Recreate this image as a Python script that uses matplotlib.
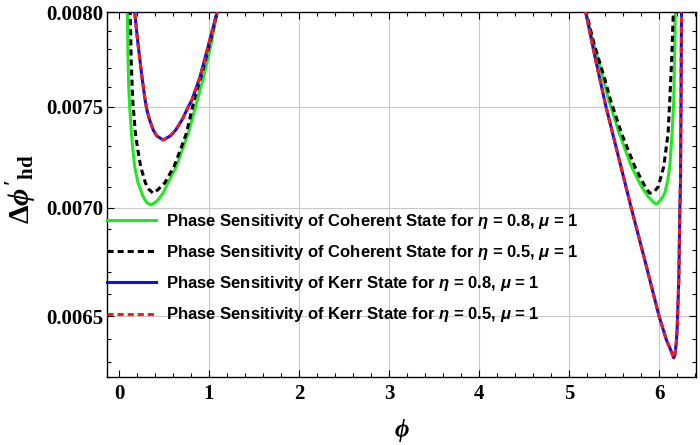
import numpy as np
import matplotlib
matplotlib.use("Agg")
import matplotlib.pyplot as plt
from matplotlib.ticker import FixedLocator, FixedFormatter, NullFormatter

plt.rcParams['mathtext.fontset'] = 'custom'
plt.rcParams['mathtext.rm'] = 'Liberation Serif:bold'
plt.rcParams['mathtext.it'] = 'Liberation Serif:italic:bold'
plt.rcParams['mathtext.bf'] = 'Liberation Serif:bold'
plt.rcParams['mathtext.sf'] = 'Liberation Sans:italic:bold'

# ---------------- data ----------------
# Coherent state, eta = 0.8 (green)
coh08_phi_left = [0.088, 0.093, 0.100, 0.108, 0.119, 0.138, 0.155, 0.174, 0.211, 0.267,
                  0.310, 0.350, 0.390, 0.433, 0.490, 0.544, 0.637, 0.700, 0.770, 0.850,
                  0.940, 1.025, 1.090, 1.110]
coh08_val_left = [0.00810, 0.00800, 0.00775, 0.00760, 0.00750, 0.007366, 0.00728, 0.00720,
                  0.00712, 0.007054, 0.007025, 0.007014, 0.007022, 0.007038, 0.00707, 0.00712,
                  0.00720, 0.00728, 0.007366, 0.00750, 0.007654, 0.007834, 0.00800, 0.00806]
coh08_phi_right = [5.170, 5.185, 5.250, 5.322, 5.375, 5.440, 5.556, 5.693, 5.804, 5.878,
                   5.930, 5.970, 6.020, 6.063, 6.095, 6.119, 6.144, 6.163, 6.172, 6.180, 6.182]
coh08_val_right = [0.00810, 0.00800, 0.00787, 0.007744, 0.007654, 0.007535, 0.007366, 0.00720,
                   0.007102, 0.007054, 0.00703, 0.007017, 0.007038, 0.00707, 0.00713, 0.00720,
                   0.007366, 0.007535, 0.00775, 0.00800, 0.00810]

# Coherent state, eta = 0.5 (black dashed)
coh05_phi_left = [0.120, 0.125, 0.135, 0.152, 0.182, 0.210, 0.241, 0.293, 0.330, 0.378,
                  0.430, 0.508, 0.611, 0.680, 0.749, 0.835, 0.910, 1.010, 1.090, 1.110]
coh05_val_left = [0.00810, 0.00800, 0.007744, 0.007535, 0.007366, 0.00728, 0.00720, 0.00712,
                  0.00709, 0.00707, 0.007086, 0.00712, 0.00720, 0.00728, 0.007366, 0.007535,
                  0.007654, 0.007834, 0.00800, 0.00806]
coh05_phi_right = [5.175, 5.190, 5.275, 5.390, 5.460, 5.582, 5.730, 5.822, 5.860, 5.897,
                   5.940, 5.989, 6.052, 6.100, 6.119, 6.140, 6.158, 6.160]
coh05_val_right = [0.00810, 0.00800, 0.007834, 0.007654, 0.007535, 0.007366, 0.00720, 0.00712,
                   0.00709, 0.00707, 0.007075, 0.00710, 0.00720, 0.007366, 0.007535, 0.00775,
                   0.00800, 0.00810]

# Kerr state, eta = 0.8 (blue)
kerr08_phi_left = [0.165, 0.174, 0.210, 0.255, 0.290, 0.310, 0.340, 0.380, 0.420, 0.490,
                   0.570, 0.630, 0.700, 0.770, 0.810, 0.900, 1.000, 1.090, 1.110]
kerr08_val_left = [0.00805, 0.00800, 0.007834, 0.007654, 0.007535, 0.007484, 0.007433, 0.007382,
                   0.007352, 0.007332, 0.007352, 0.007382, 0.007433, 0.00750, 0.007535, 0.007654,
                   0.007834, 0.00800, 0.00806]
kerr08_phi_right = [5.145, 5.185, 5.295, 5.410, 5.530, 5.690, 5.840, 6.000, 6.080, 6.120,
                    6.163, 6.175, 6.190, 6.200, 6.219, 6.230, 6.238, 6.243, 6.249, 6.251]
kerr08_val_right = [0.00810, 0.00800, 0.007744, 0.00750, 0.007282, 0.00700, 0.006756, 0.00650,
                    0.006397, 0.00636, 0.006318, 0.00633, 0.00638, 0.00644, 0.006664, 0.006974,
                    0.007135, 0.00750, 0.00800, 0.00810]

# Kerr state, eta = 0.5 (red dashed) -- coincides with eta = 0.8
kerr05_phi_left = [0.165, 0.174, 0.210, 0.255, 0.290, 0.310, 0.340, 0.380, 0.420, 0.490,
                   0.570, 0.630, 0.700, 0.770, 0.810, 0.900, 1.000, 1.090, 1.110]
kerr05_val_left = [0.00805, 0.00800, 0.007834, 0.007654, 0.007535, 0.007484, 0.007433, 0.007382,
                   0.007352, 0.007332, 0.007352, 0.007382, 0.007433, 0.00750, 0.007535, 0.007654,
                   0.007834, 0.00800, 0.00806]
kerr05_phi_right = [5.145, 5.185, 5.295, 5.410, 5.530, 5.690, 5.840, 6.000, 6.080, 6.120,
                    6.163, 6.175, 6.190, 6.200, 6.219, 6.230, 6.238, 6.243, 6.249, 6.251]
kerr05_val_right = [0.00810, 0.00800, 0.007744, 0.00750, 0.007282, 0.00700, 0.006756, 0.00650,
                    0.006397, 0.00636, 0.006318, 0.00633, 0.00638, 0.00644, 0.006664, 0.006974,
                    0.007135, 0.00750, 0.00800, 0.00810]

labels = [
    "Phase Sensitivity of Coherent State for $\\mathsf{\\eta}$ = 0.8, $\\mathsf{\\mu}$ = 1",
    "Phase Sensitivity of Coherent State for $\\mathsf{\\eta}$ = 0.5, $\\mathsf{\\mu}$ = 1",
    "Phase Sensitivity of Kerr State for $\\mathsf{\\eta}$ = 0.8, $\\mathsf{\\mu}$ = 1",
    "Phase Sensitivity of Kerr State for $\\mathsf{\\eta}$ = 0.5, $\\mathsf{\\mu}$ = 1",
]

x_ticks = [0, 1, 2, 3, 4, 5, 6]
x_tick_labels = ["0", "1", "2", "3", "4", "5", "6"]
x_minor = [k * 0.2 for k in range(0, 33)]
y_ticks = [0.0065, 0.0070, 0.0075, 0.0080]
y_tick_labels = ["0.0065", "0.0070", "0.0075", "0.0080"]
y_minor = [0.0063, 0.0064, 0.0066, 0.0067, 0.0068, 0.0069, 0.0071, 0.0072, 0.0073,
           0.0074, 0.0076, 0.0077, 0.0078, 0.0079]
grid_x = [1, 2, 3, 4, 5, 6]
grid_y = [0.0065, 0.0070, 0.0075]


def join(a, b):
    return np.array(list(a) + [np.nan] + list(b))


# ---------------- figure ----------------
fig = plt.figure(figsize=(7.0, 4.45), dpi=100)
ax = fig.add_axes([107.3 / 700, 1 - 376.7 / 445, (696 - 107.3) / 700, (376.7 - 12.3) / 445])
ax.set_yscale('log')
ax.set_xlim(-0.13, 6.41)
ax.set_ylim(0.006237, 0.0080)

for gx in grid_x:
    ax.axvline(gx, color='#c8c8c8', lw=0.8, zorder=0)
for gy in grid_y:
    ax.axhline(gy, color='#c8c8c8', lw=0.8, zorder=0)

lw = 2.2
green = '#22e822'
blue = '#1010e6'
red = '#ee1c1c'
ax.plot(join(coh08_phi_left, coh08_phi_right), join(coh08_val_left, coh08_val_right),
        color=green, lw=lw, label=labels[0], zorder=2)
ax.plot(join(coh05_phi_left, coh05_phi_right), join(coh05_val_left, coh05_val_right),
        color='black', lw=lw, ls=(0, (2.0, 1.3)), label=labels[1], zorder=3)
ax.plot(join(kerr08_phi_left, kerr08_phi_right), join(kerr08_val_left, kerr08_val_right),
        color=blue, lw=lw, label=labels[2], zorder=4)
ax.plot(join(kerr05_phi_left, kerr05_phi_right), join(kerr05_val_left, kerr05_val_right),
        color=red, lw=lw, ls=(0, (2.0, 1.3)), label=labels[3], zorder=5)

ax.xaxis.set_major_locator(FixedLocator(x_ticks))
ax.xaxis.set_major_formatter(FixedFormatter(x_tick_labels))
ax.xaxis.set_minor_locator(FixedLocator(x_minor))
ax.xaxis.set_minor_formatter(NullFormatter())
ax.yaxis.set_major_locator(FixedLocator(y_ticks))
ax.yaxis.set_major_formatter(FixedFormatter(y_tick_labels))
ax.yaxis.set_minor_locator(FixedLocator(y_minor))
ax.yaxis.set_minor_formatter(NullFormatter())

ax.tick_params(which='both', direction='in', top=True, right=True, width=0.8, color='black')
ax.tick_params(which='major', length=5)
ax.tick_params(which='minor', length=3)
ax.tick_params(axis='y', which='major', pad=3)
ax.tick_params(axis='x', which='major', pad=5)
for lab in ax.get_xticklabels() + ax.get_yticklabels():
    lab.set_fontfamily('Liberation Serif')
    lab.set_fontweight('bold')
    lab.set_fontsize(15)
for sp in ax.spines.values():
    sp.set_linewidth(1.0)

leg = ax.legend(loc='upper left', bbox_to_anchor=(0.0, 0.452), frameon=False,
                borderpad=0, borderaxespad=0, handlelength=2.95, handletextpad=0.6,
                labelspacing=0.73, prop={'family': 'Liberation Sans', 'weight': 'bold', 'size': 12})
leg.set_zorder(10)

fig.text(402 / 700, 1 - 431 / 445, r"$\phi$", fontsize=18, ha='center', va='center')
fig.text(22 / 700, 1 - 189 / 445, r"$\Delta\phi'_{\mathrm{hd}}$", fontsize=21.5,
         ha='center', va='center', rotation=90)

fig.savefig("out.png", dpi=100)
